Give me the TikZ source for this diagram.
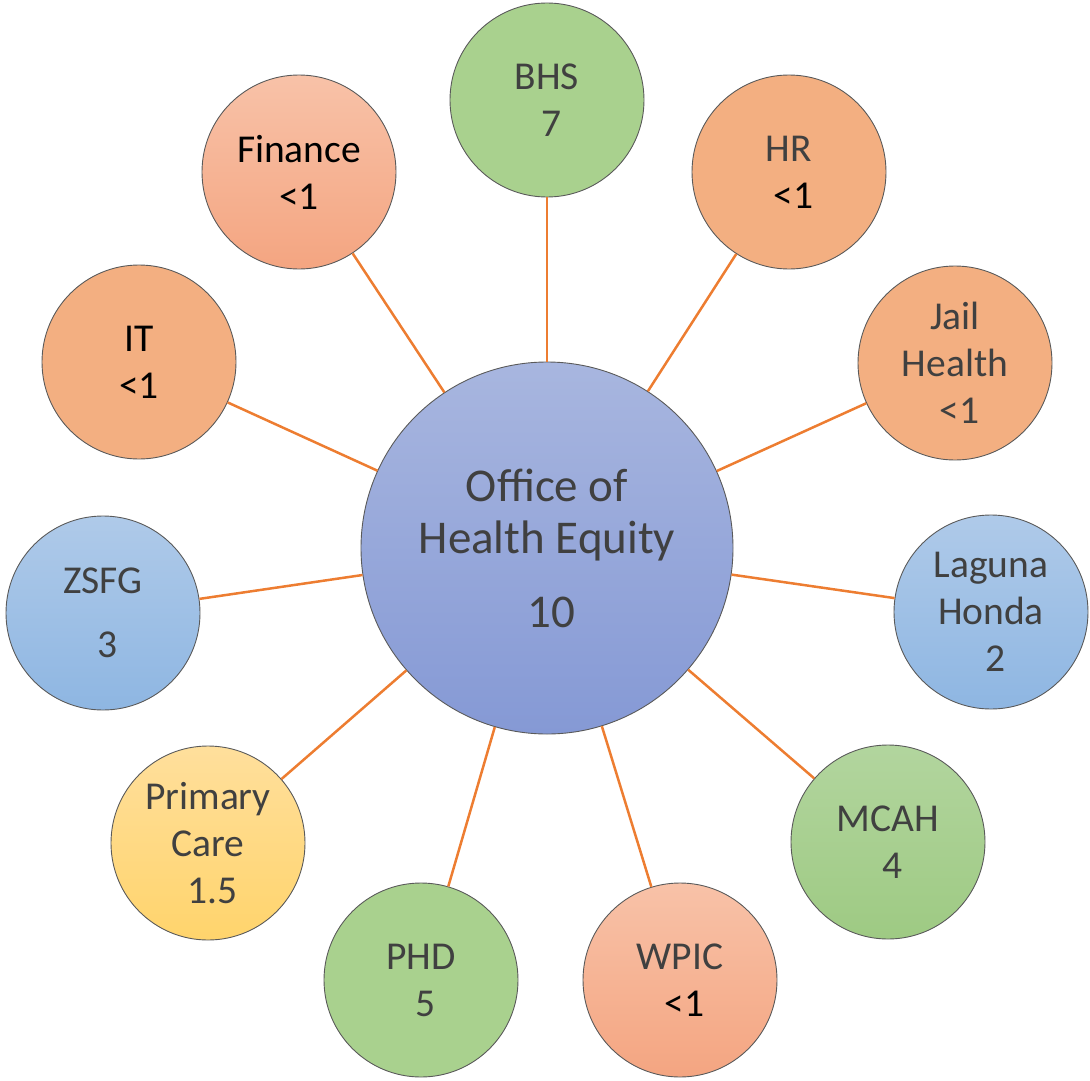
\documentclass[tikz,border=0pt]{standalone}
\usepackage{fontspec}
\setmainfont{Carlito}
\definecolor{txtgray}{HTML}{404040}
\definecolor{linkorange}{HTML}{ED7D31}
\definecolor{rimgray}{HTML}{5A5A5A}
\newcommand\lsp{\hspace*{9pt}}
\tikzset{
  unit/.style={circle, minimum size=194pt, inner sep=0pt, draw=rimgray, line width=0.9pt,
    align=center, text=txtgray, font=\fontsize{39.5}{47}\selectfont},
  hub/.style={circle, minimum size=372pt, inner sep=0pt, draw=rimgray, line width=0.9pt,
    align=center, text=txtgray, font=\fontsize{47}{52}\selectfont,
    top color=hubtop, bottom color=hubbot},
  greenflatfill/.style={fill=greenflat},
  greenfill/.style={top color=greentop, bottom color=greenbot},
  orangefill/.style={fill=orangeflat},
  salmonfill/.style={top color=salmontop, bottom color=salmonbot},
  bluefill/.style={top color=bluetop, bottom color=bluebot},
  yellowfill/.style={top color=yellowtop, bottom color=yellowbot},
  link/.style={draw=linkorange, line width=2.5pt}
}
\definecolor{hubtop}{HTML}{A8B6DF}
\definecolor{hubbot}{HTML}{8599D5}
\definecolor{greenflat}{HTML}{A9D18E}
\definecolor{greentop}{HTML}{B2D59E}
\definecolor{greenbot}{HTML}{9ECA83}
\definecolor{orangeflat}{HTML}{F3AF81}
\definecolor{salmontop}{HTML}{F8C2A8}
\definecolor{salmonbot}{HTML}{F4A581}
\definecolor{bluetop}{HTML}{AFCAE9}
\definecolor{bluebot}{HTML}{8EB6E2}
\definecolor{yellowtop}{HTML}{FFDF9C}
\definecolor{yellowbot}{HTML}{FFD46C}
\begin{document}
\begin{tikzpicture}[x=1pt,y=-1pt]
\useasboundingbox (0,0) rectangle (1090,1081);
\node[hub] (ohe) at (547,548) {Office of\\Health Equity\\[22pt]\lsp 10};
\node[unit,greenflatfill] (bhs) at (547,100) {BHS\\\lsp 7};
\node[unit,orangefill] (hr) at (789,172) {HR\\\lsp\textcolor{black}{<1}};
\node[unit,orangefill] (jail) at (955,363) {Jail\\Health\\\lsp <1};
\node[unit,bluefill] (laguna) at (991,612) {Laguna\\Honda\\\lsp 2};
\node[unit,greenfill] (mcah) at (888,842) {MCAH\\\lsp 4};
\node[unit,salmonfill] (wpic) at (680,980) {WPIC\\\lsp\textcolor{black}{<1}};
\node[unit,greenflatfill] (phd) at (421,980) {PHD\\\lsp 5};
\node[unit,yellowfill] (primary) at (208,843) {Primary\\Care\\\lsp 1.5};
\node[unit,bluefill] (zsfg) at (103,613) {ZSFG\\[17pt]\lsp 3};
\node[unit,orangefill,text=black] (it) at (139,362) {IT\\<1};
\node[unit,salmonfill,text=black] (finance) at (299,172) {Finance\\<1};
\foreach \s in {bhs,hr,jail,laguna,mcah,wpic,phd,primary,zsfg,it,finance}
  \draw[link] (ohe) -- (\s);
\end{tikzpicture}
\end{document}
